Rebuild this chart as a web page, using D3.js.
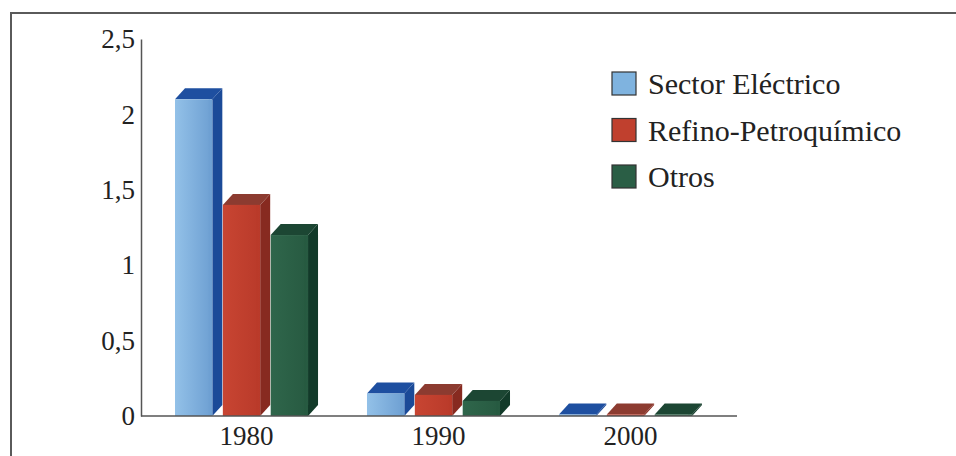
<!DOCTYPE html>
<html>
<head>
<meta charset="utf-8">
<script src="https://cdn.jsdelivr.net/npm/d3@7"></script>
<style>
  html, body { margin: 0; padding: 0; background: #fff; }
  svg { display: block; }
  text { font-family: "Liberation Serif", "Times New Roman", serif; fill: #222; }
</style>
</head>
<body>
<svg id="chart" width="956" height="456"></svg>
<script>
// ---- data ----
const years = ["1980", "1990", "2000"];
const series = ["Sector Eléctrico", "Refino-Petroquímico", "Otros"];
const sectorElectrico = [2.1, 0.15, 0.01];
const refinoPetroquimico = [1.4, 0.14, 0.01];
const otros = [1.2, 0.1, 0.01];
const yTicks = [0, 0.5, 1, 1.5, 2, 2.5];
const yTickLabels = ["0", "0,5", "1", "1,5", "2", "2,5"];

const seriesValues = [sectorElectrico, refinoPetroquimico, otros];
const colors = [
  { front0: "#93c1e8", front1: "#6d9fd2", side: "#1b4a98", top: "#1e4fa0", legend: "#7fb3df" },
  { front0: "#c84532", front1: "#b93a2a", side: "#872a20", top: "#8c3b30", legend: "#c0402e" },
  { front0: "#2f664b", front1: "#275a41", side: "#123a29", top: "#1c4633", legend: "#2a5e45" }
];

const svg = d3.select("#chart");
const defs = svg.append("defs");
colors.forEach((c, i) => {
  const g = defs.append("linearGradient").attr("id", "gf" + i)
    .attr("x1", "0").attr("x2", "1").attr("y1", "0").attr("y2", "0");
  g.append("stop").attr("offset", "0%").attr("stop-color", c.front0);
  g.append("stop").attr("offset", "100%").attr("stop-color", c.front1);
});

// frame
svg.append("path")
  .attr("d", "M11,456 L11,13 L956,13")
  .attr("fill", "none").attr("stroke", "#5a5a5a").attr("stroke-width", 2);

const depthX = 10, depthY = 11;
const y = d3.scaleLinear().domain([0, 2.5]).range([416, 39]);
const x0 = d3.scaleBand().domain(years).range([175, 702]).paddingInner(0.255).paddingOuter(0);
const x1 = d3.scaleBand().domain(series).range([0, x0.bandwidth() - depthX]).paddingInner(0.22).paddingOuter(0);

// axes
const yAxis = d3.axisLeft(y).tickValues(yTicks).tickSize(0).tickPadding(6)
  .tickFormat((d, i) => yTickLabels[i]);
const gy = svg.append("g").attr("transform", "translate(141,0)").call(yAxis);
gy.select(".domain").attr("stroke", "#555").attr("stroke-width", 1.5);
gy.selectAll("text").attr("font-size", 27).attr("font-family", "Liberation Serif").attr("fill", "#222");

const gx = svg.append("g").attr("transform", "translate(0,416)");
gx.append("line").attr("x1", 141).attr("x2", 737).attr("y1", 0).attr("y2", 0)
  .attr("stroke", "#555").attr("stroke-width", 1.5);
gx.selectAll("text.xl").data(years).join("text").attr("class", "xl")
  .attr("x", d => x0(d) + (x0.bandwidth()) / 2)
  .attr("y", 29)
  .attr("text-anchor", "middle")
  .attr("font-size", 27)
  .text(d => d);

// bars
const bars = [];
years.forEach((yr, j) => {
  series.forEach((s, i) => {
    bars.push({ year: yr, s, i, v: seriesValues[i][j] });
  });
});
const bg = svg.append("g");
const bar = bg.selectAll("g.bar").data(bars).join("g").attr("class", "bar");
bar.each(function (d) {
  const g = d3.select(this);
  const xl = x0(d.year) + x1(d.s);
  const w = x1.bandwidth();
  const yt = y(d.v), yb = y(0);
  const c = colors[d.i];
  // side face
  g.append("path")
    .attr("d", `M${xl + w},${yb} L${xl + w + depthX},${yb - depthY} L${xl + w + depthX},${yt - depthY} L${xl + w},${yt} Z`)
    .attr("fill", c.side);
  // top face
  g.append("path")
    .attr("d", `M${xl},${yt} L${xl + depthX},${yt - depthY} L${xl + w + depthX},${yt - depthY} L${xl + w},${yt} Z`)
    .attr("fill", c.top);
  // front face
  g.append("rect").attr("x", xl).attr("y", yt).attr("width", w).attr("height", Math.max(0, yb - yt))
    .attr("fill", `url(#gf${d.i})`);
  g.append("line").attr("x1", xl + w - 3).attr("x2", xl + w - 3).attr("y1", yt).attr("y2", yb)
    .attr("stroke", c.front1).attr("stroke-opacity", 0.6).attr("stroke-width", 1);
});

// redraw x axis on top of bars
gx.raise();

// legend
const leg = svg.append("g").attr("transform", "translate(612,72)");
const li = leg.selectAll("g").data(series).join("g")
  .attr("transform", (d, i) => `translate(0,${i * 46.5})`);
li.append("rect").attr("x", 0).attr("y", 0).attr("width", 24).attr("height", 23)
  .attr("fill", (d, i) => colors[i].legend).attr("stroke", "#333").attr("stroke-width", 1.2);
li.append("text").attr("x", 36).attr("y", 22).attr("font-size", 30).text(d => d);
</script>
</body>
</html>
